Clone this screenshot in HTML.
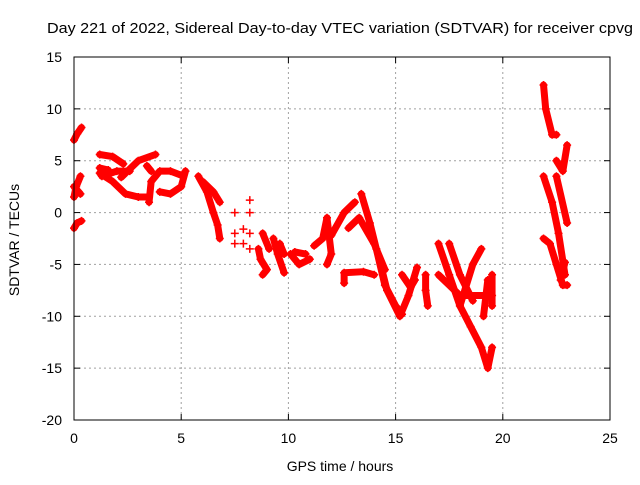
<!DOCTYPE html>
<html><head><meta charset="utf-8"><style>
body{margin:0;background:#fff;width:640px;height:480px;overflow:hidden}
svg{font-family:"Liberation Sans",sans-serif}
</style></head><body>
<svg id="chart" width="640" height="480">
<text x="47" y="33" font-size="15" textLength="586" lengthAdjust="spacingAndGlyphs">Day 221 of 2022, Sidereal Day-to-day VTEC variation (SDTVAR) for receiver cpvg</text>
<text x="340" y="471" font-size="14" text-anchor="middle">GPS time / hours</text>
<text transform="translate(19,240) rotate(-90)" font-size="14" text-anchor="middle">SDTVAR / TECUs</text>
<g id="grid"></g><g id="ticks"></g><g id="marks"></g>
<rect x="74" y="57" width="536" height="363" fill="none" stroke="#000"/>
</svg>
<script>
const xTicks=[0,5,10,15,20,25];
const yTicks=[15,10,5,0,-5,-10,-15,-20];
const traces=[
[[0,7],[0.15,7.6],[0.35,8.2]],
[[0,1.5],[0.1,2.5],[0.3,3.5]],[[0,2.5],[0.3,1.8]],
[[0,-1.5],[0.15,-1],[0.35,-0.8]],
[[1.2,5.6],[1.8,5.4],[2.3,4.7]],
[[2.2,3.4],[2.6,4.2],[3,5],[3.8,5.6]],
[[1.2,3.8],[1.8,3],[2.4,1.8],[3,1.5],[3.5,1.5]],
[[1.3,3.5],[2,4],[2.6,4]],[[1.2,4.3],[1.6,4.1]],
[[3.5,1],[3.6,3],[4,4],[4.5,4],[5,3.6]],
[[4,2],[4.5,1.8],[5,2.5],[5.2,4]],[[3.4,4.5],[3.6,4]],
[[5.8,3.5],[6.2,2],[6.5,0],[6.7,-1.2],[6.8,-2.5]],[[6,3],[6.5,2],[6.8,1]],
[[7.5,0]],[[7.5,-2]],[[7.5,-3]],[[7.9,-1.6]],[[7.9,-3]],[[8.2,1.2]],[[8.2,0]],[[8.2,-2]],[[8.2,-3.5]],
[[8.6,-3.5],[8.7,-4.5],[9,-5.5],[8.8,-6]],[[8.8,-2],[9.1,-3.5]],
[[9.3,-2.5],[9.5,-4],[9.8,-5.8]],[[9.6,-3],[9.8,-4]],
[[10.1,-4],[10.5,-5],[11,-4.5]],[[10.3,-3.8],[10.8,-4]],
[[11.2,-3.2],[11.6,-2.5],[11.8,-0.5],[12,-4],[11.8,-5]],
[[12,-2.2],[12.6,0],[13.1,1]],[[12.8,-1.5],[13.3,-0.5],[14,-3],[14.5,-5.5]],
[[12.6,-6.8],[12.6,-5.8],[13.5,-5.7],[14,-6]],
[[13.4,1.8],[13.8,-1],[14.1,-3.5],[14.5,-7],[15,-9],[15.3,-9.8]],
[[14.3,-5],[14.6,-7.5],[15.2,-10],[15.6,-8],[16,-5.3]],[[15.3,-6],[15.7,-7.2],[15.9,-6.5]],
[[16.4,-6],[16.4,-7.5],[16.5,-9]],
[[17,-3],[17.5,-6],[18,-9],[18.5,-11],[19,-13],[19.3,-15],[19.5,-13]],
[[17,-6],[17.5,-7],[18,-8],[19.5,-8]],[[17.5,-3],[18,-6],[18.6,-8.5]],
[[18,-9],[18.6,-5],[19,-3.5]],[[19.5,-6],[19.5,-9]],[[19.3,-6.5],[19.1,-10]],
[[21.9,12.3],[22,10],[22.3,7.5],[22.5,7.5]],
[[21.9,3.5],[22.3,1],[22.6,-2],[22.9,-6]],
[[21.9,-2.5],[22.2,-3],[22.5,-5],[22.8,-7],[23,-7]],
[[22.5,5],[22.8,4],[23,6.5]],[[22.5,3.5],[23,-1]],[[22.7,-6.5],[22.9,-4.8]]
];
const X=v=>74+v*536/25, Y=v=>57+(15-v)*363/35;
const ns="http://www.w3.org/2000/svg";
const grid=document.getElementById('grid'),ticks=document.getElementById('ticks'),marks=document.getElementById('marks');
function mk(t,a,p){const e=document.createElementNS(ns,t);for(const k in a)e.setAttribute(k,a[k]);p.appendChild(e);return e;}
xTicks.forEach(t=>{
 if(t>0&&t<25){const g=mk('line',{x1:X(t),x2:X(t),y1:57,y2:420,stroke:'#a0a0a0','stroke-dasharray':'2,3'},grid);
 
 }
 mk('line',{x1:X(t),x2:X(t),y1:420,y2:414,stroke:'#000'},ticks);
 mk('line',{x1:X(t),x2:X(t),y1:57,y2:63,stroke:'#000'},ticks);
 const l=mk('text',{x:X(t),y:443,'font-size':14,'text-anchor':'middle'},ticks);l.textContent=t;
 
 
});
yTicks.forEach(t=>{
 if(t<15&&t>-20){const g=mk('line',{x1:74,x2:610,y1:Y(t),y2:Y(t),stroke:'#a0a0a0','stroke-dasharray':'2,3'},grid);
 
 }
 mk('line',{x1:74,x2:80,y1:Y(t),y2:Y(t),stroke:'#000'},ticks);
 mk('line',{x1:610,x2:604,y1:Y(t),y2:Y(t),stroke:'#000'},ticks);
 const l=mk('text',{x:62,y:Y(t)+5,'font-size':14,'text-anchor':'end'},ticks);l.textContent=t;
 
 
});
traces.forEach(tr=>{
 if(tr.length>1){const p=mk('polyline',{points:tr.map(d=>X(d[0])+','+Y(d[1])).join(' '),fill:'none',stroke:'#f00','stroke-width':7,'stroke-linejoin':'round','stroke-linecap':'round'},marks);
 
 }
 tr.forEach(d=>{const x=X(d[0]),y=Y(d[1]);
  const m=mk('path',{d:`M${x-4},${y}h8M${x},${y-4}v8`,stroke:'#f00','stroke-width':1.5},marks);
  
  });
});
</script>
</body></html>
